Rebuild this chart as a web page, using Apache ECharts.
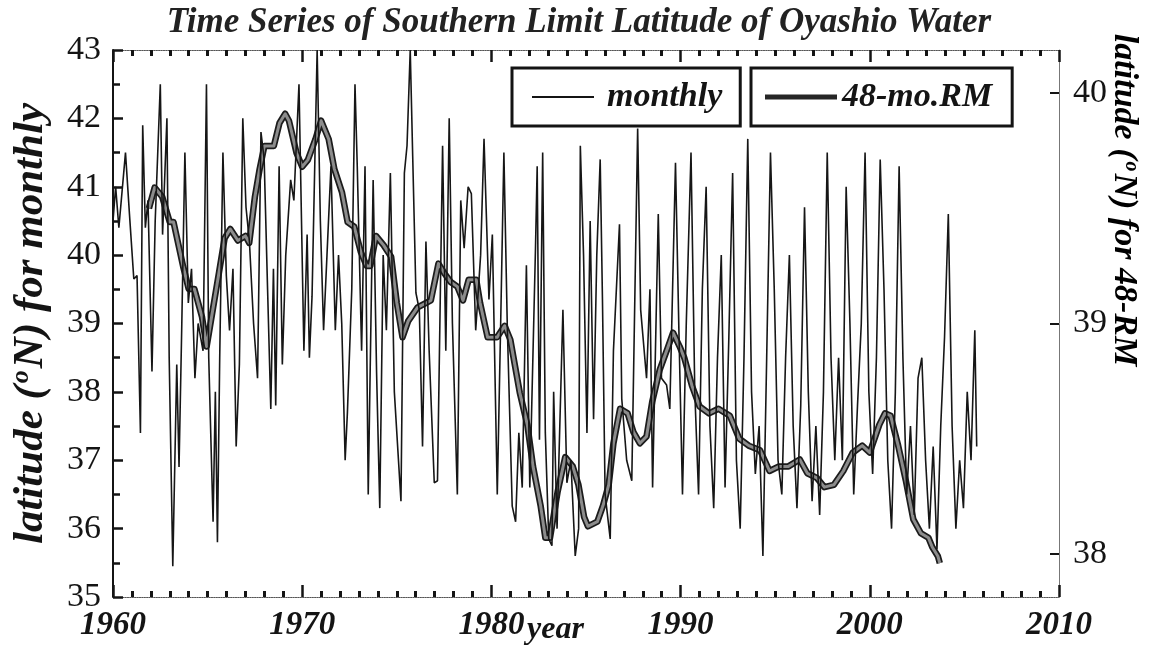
<!DOCTYPE html>
<html>
<head>
<meta charset="utf-8">
<script src="https://cdn.jsdelivr.net/npm/echarts@6/dist/echarts.min.js"></script>
<style>
  html, body { margin: 0; padding: 0; background: #fff; }
  #chart { width: 1158px; height: 648px; }
</style>
</head>
<body>
<div id="chart"></div>
<script>
// Monthly southern-limit latitude (deg N), [decimal year, latitude]
const monthly = [
  [1960.00,40.5],[1960.14,41.0],[1960.31,40.4],[1960.66,41.5],[1960.87,40.6],[1961.10,39.65],[1961.27,39.7],
  [1961.45,37.4],[1961.57,41.9],[1961.71,40.4],[1961.85,40.8],[1962.06,38.3],[1962.23,40.5],[1962.50,42.5],
  [1962.62,40.3],[1962.85,42.0],[1962.97,38.5],[1963.16,35.45],[1963.37,38.4],[1963.49,36.9],[1963.63,38.9],
  [1963.80,41.5],[1963.98,39.3],[1964.15,39.8],[1964.33,38.2],[1964.50,39.0],[1964.76,38.6],[1964.94,42.5],
  [1965.06,38.5],[1965.29,36.1],[1965.41,38.0],[1965.52,35.8],[1965.64,38.5],[1965.81,41.5],[1965.99,39.7],
  [1966.16,38.9],[1966.34,39.8],[1966.51,37.2],[1966.68,38.4],[1966.86,42.0],[1967.03,40.7],[1967.21,40.2],
  [1967.43,39.0],[1967.64,38.2],[1967.82,41.8],[1967.99,41.4],[1968.17,39.5],[1968.34,37.75],[1968.48,39.8],
  [1968.60,37.8],[1968.78,41.3],[1968.95,38.4],[1969.13,40.0],[1969.39,41.1],[1969.56,40.8],[1969.83,42.5],
  [1970.09,38.6],[1970.26,40.3],[1970.38,38.5],[1970.52,39.4],[1970.79,43.0],[1970.96,40.5],[1971.13,38.9],
  [1971.31,40.0],[1971.52,41.3],[1971.75,38.9],[1971.92,40.0],[1972.09,39.0],[1972.27,37.0],[1972.39,37.7],
  [1972.62,39.5],[1972.79,42.5],[1972.91,41.3],[1973.14,38.6],[1973.32,41.3],[1973.49,36.5],[1973.75,41.1],
  [1973.93,38.3],[1974.10,36.3],[1974.28,40.0],[1974.45,38.9],[1974.66,41.2],[1974.87,38.0],[1975.22,36.4],
  [1975.40,41.2],[1975.54,41.6],[1975.71,43.0],[1975.84,41.45],[1976.01,39.45],[1976.19,39.2],[1976.36,37.2],
  [1976.54,40.2],[1976.71,38.6],[1976.98,36.67],[1977.15,36.7],[1977.42,41.6],[1977.59,38.6],[1977.77,42.0],
  [1977.94,39.0],[1978.20,36.5],[1978.38,40.8],[1978.56,40.1],[1978.77,41.0],[1978.94,40.9],[1979.17,38.9],
  [1979.43,40.0],[1979.61,41.7],[1979.87,39.35],[1980.05,40.3],[1980.31,36.5],[1980.49,39.0],[1980.66,41.5],
  [1980.84,38.96],[1981.10,36.33],[1981.28,36.1],[1981.45,37.4],[1981.63,36.6],[1981.85,39.85],[1982.03,36.6],
  [1982.33,40.1],[1982.42,41.3],[1982.54,37.3],[1982.71,41.5],[1982.85,37.4],[1983.03,35.85],[1983.20,35.75],
  [1983.29,38.0],[1983.47,36.0],[1983.78,39.2],[1983.99,36.67],[1984.20,37.0],[1984.43,35.6],[1984.61,36.0],
  [1984.70,41.6],[1984.87,40.0],[1985.05,37.4],[1985.22,40.5],[1985.40,37.6],[1985.57,40.0],[1985.75,41.4],
  [1985.87,39.35],[1986.01,36.5],[1986.28,35.85],[1986.45,38.6],[1986.77,40.45],[1986.89,37.9],[1987.15,37.0],
  [1987.42,36.7],[1987.73,41.85],[1987.89,39.2],[1988.20,38.2],[1988.38,39.5],[1988.52,36.6],[1988.82,40.6],
  [1988.99,38.2],[1989.26,38.1],[1989.43,37.75],[1989.73,41.35],[1989.91,38.9],
  [1990.10,36.5],[1990.30,39.0],[1990.55,41.5],[1990.75,38.0],[1990.95,36.5],[1991.15,39.5],[1991.35,41.0],
  [1991.55,37.5],[1991.75,36.3],[1991.95,38.5],[1992.15,40.0],[1992.35,36.6],[1992.55,38.8],[1992.75,41.2],
  [1992.95,37.0],[1993.15,36.0],[1993.35,38.5],[1993.55,41.7],[1993.75,38.0],[1993.95,36.8],[1994.15,37.5],
  [1994.35,35.6],[1994.55,38.5],[1994.75,41.5],[1994.95,39.5],[1995.15,37.0],[1995.35,36.5],[1995.55,38.5],
  [1995.75,40.0],[1995.95,37.5],[1996.15,36.3],[1996.35,37.8],[1996.55,40.7],[1996.75,38.0],[1996.95,36.4],
  [1997.15,37.5],[1997.35,36.2],[1997.55,38.0],[1997.75,41.5],[1997.95,38.5],[1998.15,37.0],[1998.35,38.5],
  [1998.55,37.0],[1998.75,41.0],[1998.95,39.0],[1999.15,36.5],[1999.35,37.8],[1999.55,39.0],[1999.75,41.5],
  [1999.95,38.0],[2000.15,36.8],[2000.35,38.5],[2000.55,41.4],[2000.75,39.5],[2000.95,37.0],[2001.15,36.0],
  [2001.35,38.0],[2001.55,41.3],[2001.75,38.5],[2001.95,36.5],[2002.15,37.5],[2002.35,36.2],[2002.55,38.2],
  [2002.75,38.5],[2002.95,37.0],[2003.15,36.0],[2003.35,37.2],[2003.55,35.7],[2003.75,37.5],[2003.95,38.8],
  [2004.15,40.6],[2004.35,37.5],[2004.55,36.0],[2004.75,37.0],[2004.95,36.3],[2005.15,38.0],[2005.35,37.0],
  [2005.55,38.9],[2005.65,37.2]
];

// 48-month running mean (deg N), [decimal year, latitude] on the right-hand scale
const runningMean48 = [
  [1961.9,39.50],[1962.2,39.59],[1962.6,39.55],[1963.0,39.44],[1963.2,39.44],[1963.7,39.25],[1964.0,39.15],
  [1964.3,39.15],[1964.7,39.03],[1964.95,38.90],[1965.6,39.22],[1965.9,39.37],[1966.2,39.41],[1966.6,39.36],
  [1967.0,39.38],[1967.2,39.35],[1967.5,39.55],[1967.75,39.67],[1968.0,39.77],[1968.5,39.77],[1968.8,39.87],
  [1969.1,39.91],[1969.3,39.88],[1969.7,39.74],[1970.0,39.68],[1970.3,39.71],[1970.7,39.80],[1971.0,39.88],
  [1971.4,39.80],[1971.7,39.67],[1972.1,39.57],[1972.4,39.44],[1972.75,39.42],[1973.1,39.31],[1973.4,39.25],
  [1973.6,39.25],[1973.9,39.38],[1974.3,39.34],[1974.7,39.29],[1975.0,39.09],[1975.3,38.94],[1975.6,39.01],
  [1976.1,39.07],[1976.8,39.10],[1977.2,39.26],[1977.5,39.22],[1977.85,39.18],[1978.2,39.16],[1978.5,39.10],
  [1978.8,39.19],[1979.2,39.19],[1979.4,39.09],[1979.8,38.94],[1980.3,38.94],[1980.7,38.99],[1981.0,38.93],
  [1981.5,38.70],[1981.9,38.56],[1982.2,38.38],[1982.6,38.21],[1982.85,38.07],[1983.1,38.07],[1983.5,38.27],
  [1983.9,38.42],[1984.3,38.38],[1984.6,38.30],[1984.9,38.16],[1985.1,38.12],[1985.6,38.14],[1985.9,38.21],
  [1986.2,38.30],[1986.45,38.48],[1986.8,38.63],[1987.2,38.61],[1987.5,38.53],[1987.85,38.48],[1988.2,38.51],
  [1988.5,38.66],[1988.9,38.80],[1989.3,38.89],[1989.6,38.96],[1989.95,38.90],[1990.2,38.85],[1990.6,38.73],
  [1991.0,38.64],[1991.5,38.61],[1992.0,38.63],[1992.6,38.60],[1993.1,38.50],[1993.6,38.47],[1994.2,38.45],
  [1994.7,38.36],[1995.2,38.38],[1995.7,38.38],[1996.3,38.41],[1996.7,38.35],[1997.2,38.33],[1997.6,38.29],
  [1998.1,38.30],[1998.6,38.36],[1999.1,38.44],[1999.6,38.47],[2000.0,38.44],[2000.5,38.56],[2000.8,38.61],
  [2001.1,38.60],[2001.5,38.47],[2001.9,38.32],[2002.3,38.15],[2002.7,38.09],[2003.1,38.07],[2003.3,38.03],
  [2003.6,37.99],[2003.7,37.96]
];

// Axis ranges and labelled ticks
const yearRange = [1960, 2010];
const monthlyRange = [35, 43];
const meanRange = [37.8132, 40.1868];
const meanTickValues = [38, 39, 40];

const serif = '"Liberation Serif", "DejaVu Serif", serif';
const ink = '#141414';

function richName(size) {
  return {
    t: { fontFamily: serif, fontStyle: 'italic', fontWeight: 'bold', fontSize: size, color: ink },
    s: { fontFamily: serif, fontStyle: 'italic', fontWeight: 'bold', fontSize: Math.round(size * 0.6), color: ink,
         verticalAlign: 'top', padding: [0, 2, Math.round(size * 0.45), 2] }
  };
}

const tickStyle = { color: ink, width: 2.5 };

function xAxisBase(position, showLabel) {
  return {
    type: 'value', position: position,
    min: yearRange[0], max: yearRange[1], interval: 10,
    axisLine: { show: true, lineStyle: { color: '#555', width: 1.2, type: 'dotted' } },
    axisTick: { show: true, inside: true, length: 12, lineStyle: tickStyle },
    minorTick: { show: true, splitNumber: 10, length: 6, lineStyle: { color: ink, width: 3 } },
    splitLine: { show: false },
    axisLabel: {
      show: showLabel, margin: 12, formatter: (v) => String(v),
      fontFamily: serif, fontStyle: 'italic', fontWeight: 'bold', fontSize: 33, color: ink
    }
  };
}

const legendText = { fontFamily: serif, fontStyle: 'italic', fontWeight: 'bold', fontSize: 34, color: ink };

const chart = echarts.init(document.getElementById('chart'), null, { renderer: 'canvas' });
chart.setOption({
  animation: false,
  backgroundColor: '#ffffff',
  title: {
    text: 'Time Series of Southern Limit Latitude of Oyashio Water',
    left: 'center', top: 0,
    textStyle: { fontFamily: serif, fontStyle: 'italic', fontWeight: 'bold', fontSize: 35, color: '#222' }
  },
  legend: [
    {
      data: [{ name: 'monthly', icon: 'rect', itemStyle: { color: ink } }],
      left: 512, top: 68, itemWidth: 62, itemHeight: 2, padding: [12, 18, 12, 20],
      borderColor: ink, borderWidth: 3,
      textStyle: Object.assign({ padding: [0, 0, 0, 8] }, legendText)
    },
    {
      data: [{ name: '48-mo.RM', icon: 'rect', itemStyle: { color: '#262626' } }],
      left: 751, top: 68, itemWidth: 72, itemHeight: 5, padding: [12, 20, 12, 14],
      borderColor: ink, borderWidth: 3,
      textStyle: Object.assign({ padding: [0, 0, 0, 0] }, legendText)
    }
  ],
  grid: { left: 110, right: 99, top: 50, bottom: 51 },
  xAxis: [xAxisBase('bottom', true), xAxisBase('top', false)],
  yAxis: [
    {
      type: 'value', position: 'left',
      min: monthlyRange[0], max: monthlyRange[1], interval: 1,
      axisLine: { show: true, lineStyle: { color: ink, width: 2 } },
      axisTick: { show: true, inside: true, length: 10, lineStyle: tickStyle },
      minorTick: { show: true, splitNumber: 2, length: 7, lineStyle: tickStyle },
      splitLine: { show: false },
      axisLabel: { margin: 12, fontFamily: serif, fontSize: 34, color: ink },
      name: '{t|latitude (}{s|o}{t|N) for monthly}',
      nameLocation: 'middle', nameGap: 60, nameRotate: 90,
      nameTextStyle: { rich: richName(43) }
    },
    {
      type: 'value', position: 'right',
      min: meanRange[0], max: meanRange[1],
      axisLine: { show: true, lineStyle: { color: '#777', width: 1 } },
      axisTick: { show: true, inside: true, length: 9, customValues: meanTickValues, lineStyle: { color: ink, width: 2 } },
      splitLine: { show: false },
      axisLabel: { margin: 14, customValues: meanTickValues, fontFamily: serif, fontSize: 34, color: ink }
    }
  ],
  graphic: [
    {
      type: 'text', x: 1124, y: 200, rotation: -Math.PI / 2,
      style: {
        text: '{t|latitude (}{s|o}{t|N) for 48-RM}', rich: richName(34),
        align: 'center', verticalAlign: 'middle', textAlign: 'center', textVerticalAlign: 'middle'
      }
    },
    {
      type: 'text', x: 527, y: 614,
      style: {
        text: 'year', fill: ink,
        font: 'italic bold 32px "Liberation Serif", "DejaVu Serif", serif'
      }
    }
  ],
  series: [
    {
      name: '48-mo.RM', type: 'line', yAxisIndex: 1, data: runningMean48,
      symbol: 'none', itemStyle: { color: '#1c1c1c' },
      lineStyle: { color: '#1c1c1c', width: 6.5, join: 'round' }, z: 2
    },
    {
      name: '48-mo.RM', type: 'line', yAxisIndex: 1, data: runningMean48,
      symbol: 'none', itemStyle: { color: '#8c8c8c' },
      lineStyle: { color: '#8c8c8c', width: 3, join: 'round' }, z: 3
    },
    {
      name: 'monthly', type: 'line', data: monthly,
      symbol: 'none', itemStyle: { color: '#161616' },
      lineStyle: { color: '#161616', width: 1.6 }, z: 4
    }
  ]
});
</script>
</body>
</html>
